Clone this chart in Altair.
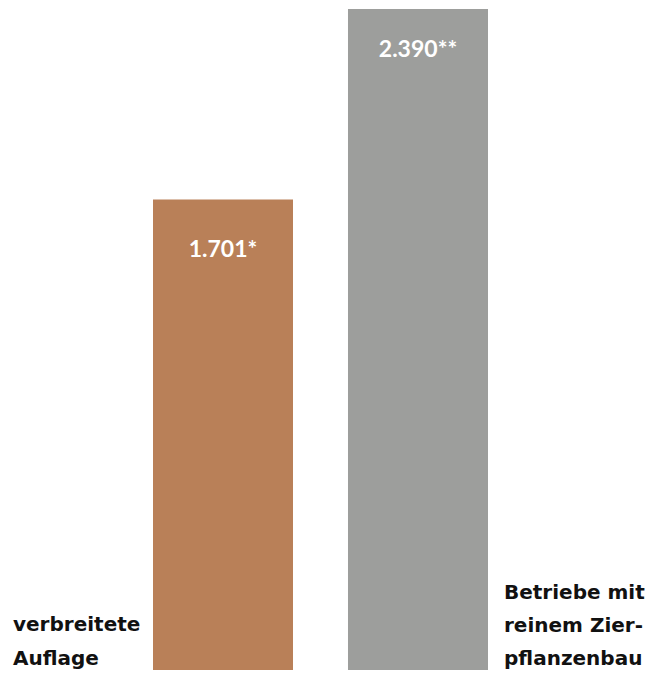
import altair as alt
import pandas as pd

categories = ["verbreitete Auflage", "Betriebe mit reinem Zierpflanzenbau"]
values = [1701, 2390]
value_labels = ["1.701*", "2.390**"]
label_lines = [["verbreitete", "Auflage"], ["Betriebe mit", "reinem Zier-", "pflanzenbau"]]
colors = ["#B98058", "#9D9E9C"]

df = pd.DataFrame({
    "cat": categories,
    "value": values,
    "vlabel": value_labels,
    "lines": label_lines,
})

VFONT = "Lato"
LFONT = "DejaVu Sans"

x_scale = alt.Scale(range=[145, 480], paddingInner=0.282, paddingOuter=0)
x_enc = alt.X("cat:N", sort=categories, axis=None, scale=x_scale)
y_scale = alt.Scale(domain=[0, 2393.6], nice=False, zero=True)

base = alt.Chart(df)

bars = base.mark_bar().encode(
    x=x_enc,
    y=alt.Y("value:Q", scale=y_scale, axis=None),
    color=alt.Color("cat:N", scale=alt.Scale(domain=categories, range=colors), legend=None),
)

vt1 = base.transform_filter(alt.datum.cat == categories[0]).mark_text(
    font=VFONT, fontSize=23, fontWeight="bold", color="white",
    align="center", baseline="alphabetic", dy=57,
).encode(x=x_enc, y=alt.Y("value:Q", scale=y_scale), text="vlabel:N")

vt2 = base.transform_filter(alt.datum.cat == categories[1]).mark_text(
    font=VFONT, fontSize=23, fontWeight="bold", color="white",
    align="center", baseline="alphabetic", dy=48,
).encode(x=x_enc, y=alt.Y("value:Q", scale=y_scale), text="vlabel:N")

lab1 = base.transform_filter(alt.datum.cat == categories[0]).transform_calculate(
    zero="0"
).mark_text(
    font=LFONT, fontSize=20, fontWeight="bold", color="#111111",
    align="left", baseline="alphabetic", dx=-140, dy=-39, lineHeight=34,
).encode(
    x=alt.X("cat:N", sort=categories, bandPosition=0, scale=x_scale),
    y=alt.Y("zero:Q", scale=y_scale),
    text="lines",
)

lab2 = base.transform_filter(alt.datum.cat == categories[1]).transform_calculate(
    zero="0"
).mark_text(
    font=LFONT, fontSize=20, fontWeight="bold", color="#111111",
    align="left", baseline="alphabetic", dx=16, dy=-71, lineHeight=33,
).encode(
    x=alt.X("cat:N", sort=categories, bandPosition=1, scale=x_scale),
    y=alt.Y("zero:Q", scale=y_scale),
    text="lines",
)

chart = alt.layer(bars, vt1, vt2, lab1, lab2).properties(
    width=639, height=662,
    autosize=alt.AutoSizeParams(type="none"),
    padding={"left": 0, "top": 0, "right": 0, "bottom": 0},
).configure_view(stroke=None)

chart.save("out.html", embed_options={"renderer": "svg", "actions": False})
